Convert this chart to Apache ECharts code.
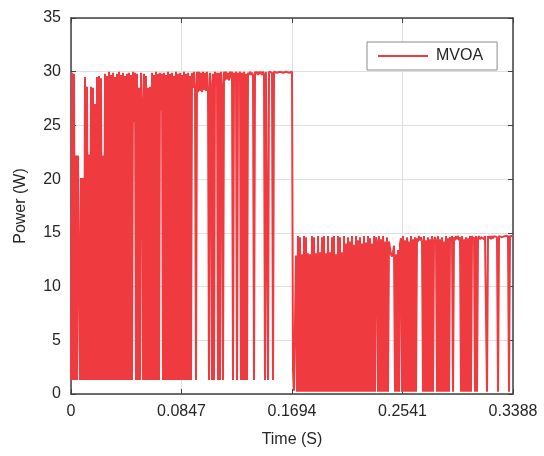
<!DOCTYPE html>
<html>
<head>
<meta charset="utf-8">
<script src="https://cdn.jsdelivr.net/npm/echarts@6/dist/echarts.min.js"></script>
<style>
html,body{margin:0;padding:0;background:#fff;}
#chart{width:544px;height:456px;}
</style>
</head>
<body>
<div id="chart"></div>
<script>
// Tick labels
const xTickLabels = ['0', '0.0847', '0.1694', '0.2541', '0.3388'];
const yTicks = [0, 5, 10, 15, 20, 25, 30, 35];
const seriesName = 'MVOA';
const tSwitch = 0.1694;   // time of irradiance step
const tEnd = 0.3388;

// Power samples (W), first stage (0 .. 0.1694 s)
const power1a = [1.3,29.9,1.3,29.8,1.3,22.2,1.3,22.2,22.1,1.3,20.1,1.3,20.1,1.3,29.5,1.3,28.6,1.3,22.3,1.3,28.6,1.3,28.5,1.3,27.0,1.3,29.5,1.3,29.6,1.3,29.4,1.3,22.2,1.3];
const power1b = [29.8,1.3,29.6,1.3,30.0,1.3,29.7,1.3,29.9,1.3,29.5,1.3,29.8,1.3,30.0,1.3,29.7,1.3,29.9,1.3,29.6,1.3,29.8,1.3,29.9,1.3,29.7,1.3];
const power1c = [30.0,25.3,29.9,1.3,29.8,1.3,28.5,1.3,29.9,27.2,1.3,29.8,1.3,29.6,1.3,28.5,1.3,28.6,1.3,29.9,1.3,29.7,1.3,30.0,1.3,29.8,1.3,29.9,26.4,29.8];
const power1d = [1.3,29.9,1.3,29.7,1.3,30.0,1.3,29.8,1.3,29.9,1.3,29.6,1.3,30.0,1.3,29.8,1.3,29.9,1.3,29.7,1.3,30.0,1.3,29.8,1.3,29.9,1.3,29.6,1.3];
const power1e = [
  29.9,28.5,30.0,28.6,1.3,30.0,28.1,30.0,28.2,29.9,
  28.1,30.0,28.3,29.9,28.2,30.0,28.4,1.3,29.9,28.7,
  1.3,29.8,1.3,30.0,28.7,29.9,1.3,29.9,1.3,30.0,
  28.8,1.3,30.0,29.2,30.0,29.3,29.9,29.2,30.0,29.4,
  30.0,1.3,29.9,29.5,30.0,1.3,29.9,29.6,30.0,1.3,
  29.9,1.3,30.0,1.3,29.8,1.3,29.9,29.7,30.0,29.7,
  29.9,29.7,1.3,30.0,29.8,30.0,29.7,30.0,29.8,30.0,
  29.7,30.0,29.8,1.3,30.0,29.9,1.3,30.0,29.9,30.0,
  29.9,1.3,30.0,29.9,30.0,29.9,30.0,29.9,30.0,29.9,
  30.0,29.9,30.0,29.9,30.0,29.9,30.0,29.9,30.0,29.9,30.0
];
// Second stage (0.1694 .. 0.3388 s)
const power2a = [
  2.2,0.3,0.2,12.9,0.2,14.7,0.2,14.6,0.2,13.0,
  0.2,14.7,0.2,14.6,0.2,13.1,0.2,13.0,0.2,14.7,
  0.2,14.6,0.2,13.1,0.2,14.7,0.2,13.2,0.2,14.6,
  0.2,14.7,0.2,13.1,0.2,14.7,0.2,13.2,0.2,14.6,
  0.2,14.7,0.2,13.0,0.2,14.7,0.2,14.6,0.2,13.2
];
const power2b = [
  0.2,14.7,0.2,14.0,0.2,14.6,0.2,14.2,0.2,14.7,
  0.2,13.9,0.2,14.7,0.2,14.3,0.2,14.6,0.2,14.0,
  0.2,14.7,0.2,14.1,0.2,14.7,0.2,14.5,0.2,14.0,
  0.2,14.7,0.2,14.6,14.2,0.2,14.7,0.2,14.4,0.2,
  14.7,0.2,14.2,0.2,14.6,0.2,14.2,13.6,13.0,12.8,
  13.2,13.8,0.2,13.0,0.2,13.4,0.2,14.0,14.5,0.2
];
const power2c = [
  14.7,0.2,14.3,0.2,14.6,0.2,14.2,0.2,14.7,0.2,
  14.4,0.2,14.6,0.2,14.5,14.2,14.7,14.3,14.6,14.2,
  0.2,14.7,0.2,14.3,0.2,14.6,0.2,14.4,0.2,14.7,
  0.2,14.3,14.6,14.3,0.2,14.7,0.2,14.4,0.2,14.6,
  0.2,14.2,0.2,14.7,0.2,14.5,0.2,14.6,14.3,14.7,
  0.2,14.6,14.3,14.7,14.4,14.7,14.3,14.6,0.2,14.7
];
const power2d = [
  0.2,14.4,0.2,14.6,0.2,14.5,0.2,14.7,0.2,14.7,
  14.4,14.6,0.2,14.7,0.2,14.5,14.7,14.4,14.6,14.5,
  14.7,14.4,14.7,14.6,0.2,14.7,14.5,14.7,14.4,14.7,
  14.5,14.7,14.6,14.7,14.6,0.2,14.7,14.6,14.7,14.6,
  14.7,14.6,14.7,14.6,14.7,14.7,0.2,14.7,14.7,14.6,14.7
];

const stage1 = [].concat(power1a, power1b, power1c, power1d, power1e);
const stage2 = [].concat(power2a, power2b, power2c, power2d);
const data = [];
stage1.forEach((v, i) => data.push([i * tSwitch / (stage1.length - 1), v]));
stage2.forEach((v, j) => data.push([tSwitch + (j + 1) * (tEnd - tSwitch) / stage2.length, v]));

const FONT = 'Liberation Sans, Arial, Helvetica, sans-serif';
const axisColor = '#404040';
const textColor = '#262626';
const gridColor = '#dfdfdf';
const red = '#ef3a3f';

const chart = echarts.init(document.getElementById('chart'), null, {renderer: 'canvas'});
const xStep = 0.0847;
const baseX = {
  type: 'value', min: 0, max: tEnd, interval: xStep,
  axisLine: {show: true, onZero: false, lineStyle: {color: axisColor, width: 1.5}},
  axisTick: {show: true, inside: true, length: 5, lineStyle: {color: axisColor, width: 1}}
};
const baseY = {
  type: 'value', min: yTicks[0], max: yTicks[yTicks.length - 1], interval: 5,
  axisLine: {show: true, onZero: false, lineStyle: {color: axisColor, width: 1.5}},
  axisTick: {show: true, inside: true, length: 5, lineStyle: {color: axisColor, width: 1}}
};
chart.setOption({
  animation: false,
  backgroundColor: '#fff',
  textStyle: {fontFamily: FONT},
  grid: {left: 71, right: 31, top: 18, bottom: 62},
  legend: {
    data: [seriesName],
    left: 367, top: 42,
    padding: [6, 14, 6, 11],
    itemGap: 0, itemWidth: 50, itemHeight: 2,
    icon: 'rect',
    backgroundColor: '#fff',
    borderColor: '#8a8a8a', borderWidth: 1,
    textStyle: {fontFamily: FONT, fontSize: 16, color: textColor, lineHeight: 16, padding: [0, 0, 0, 3]}
  },
  xAxis: [
    Object.assign({}, baseX, {
      position: 'bottom',
      axisLabel: {
        color: textColor, fontSize: 16, fontFamily: FONT, margin: 10,
        formatter: v => xTickLabels[Math.round(v / xStep)]
      },
      splitLine: {show: true, lineStyle: {color: gridColor, width: 1}},
      name: 'Time (S)', nameLocation: 'middle', nameGap: 38,
      nameTextStyle: {color: textColor, fontSize: 16, fontFamily: FONT}
    }),
    Object.assign({}, baseX, {
      position: 'top', axisLabel: {show: false}, splitLine: {show: false}
    })
  ],
  yAxis: [
    Object.assign({}, baseY, {
      position: 'left',
      axisLabel: {color: textColor, fontSize: 16, fontFamily: FONT, margin: 10},
      splitLine: {show: true, lineStyle: {color: gridColor, width: 1}},
      name: 'Power (W)', nameLocation: 'middle', nameGap: 42,
      nameTextStyle: {color: textColor, fontSize: 16, fontFamily: FONT}
    }),
    Object.assign({}, baseY, {
      position: 'right', axisLabel: {show: false}, splitLine: {show: false}
    })
  ],
  series: [{
    name: seriesName,
    type: 'line',
    data: data,
    showSymbol: false,
    symbol: 'none',
    sampling: null,
    lineStyle: {color: red, width: 2},
    itemStyle: {color: red},
    z: 2
  }]
});
</script>
</body>
</html>
